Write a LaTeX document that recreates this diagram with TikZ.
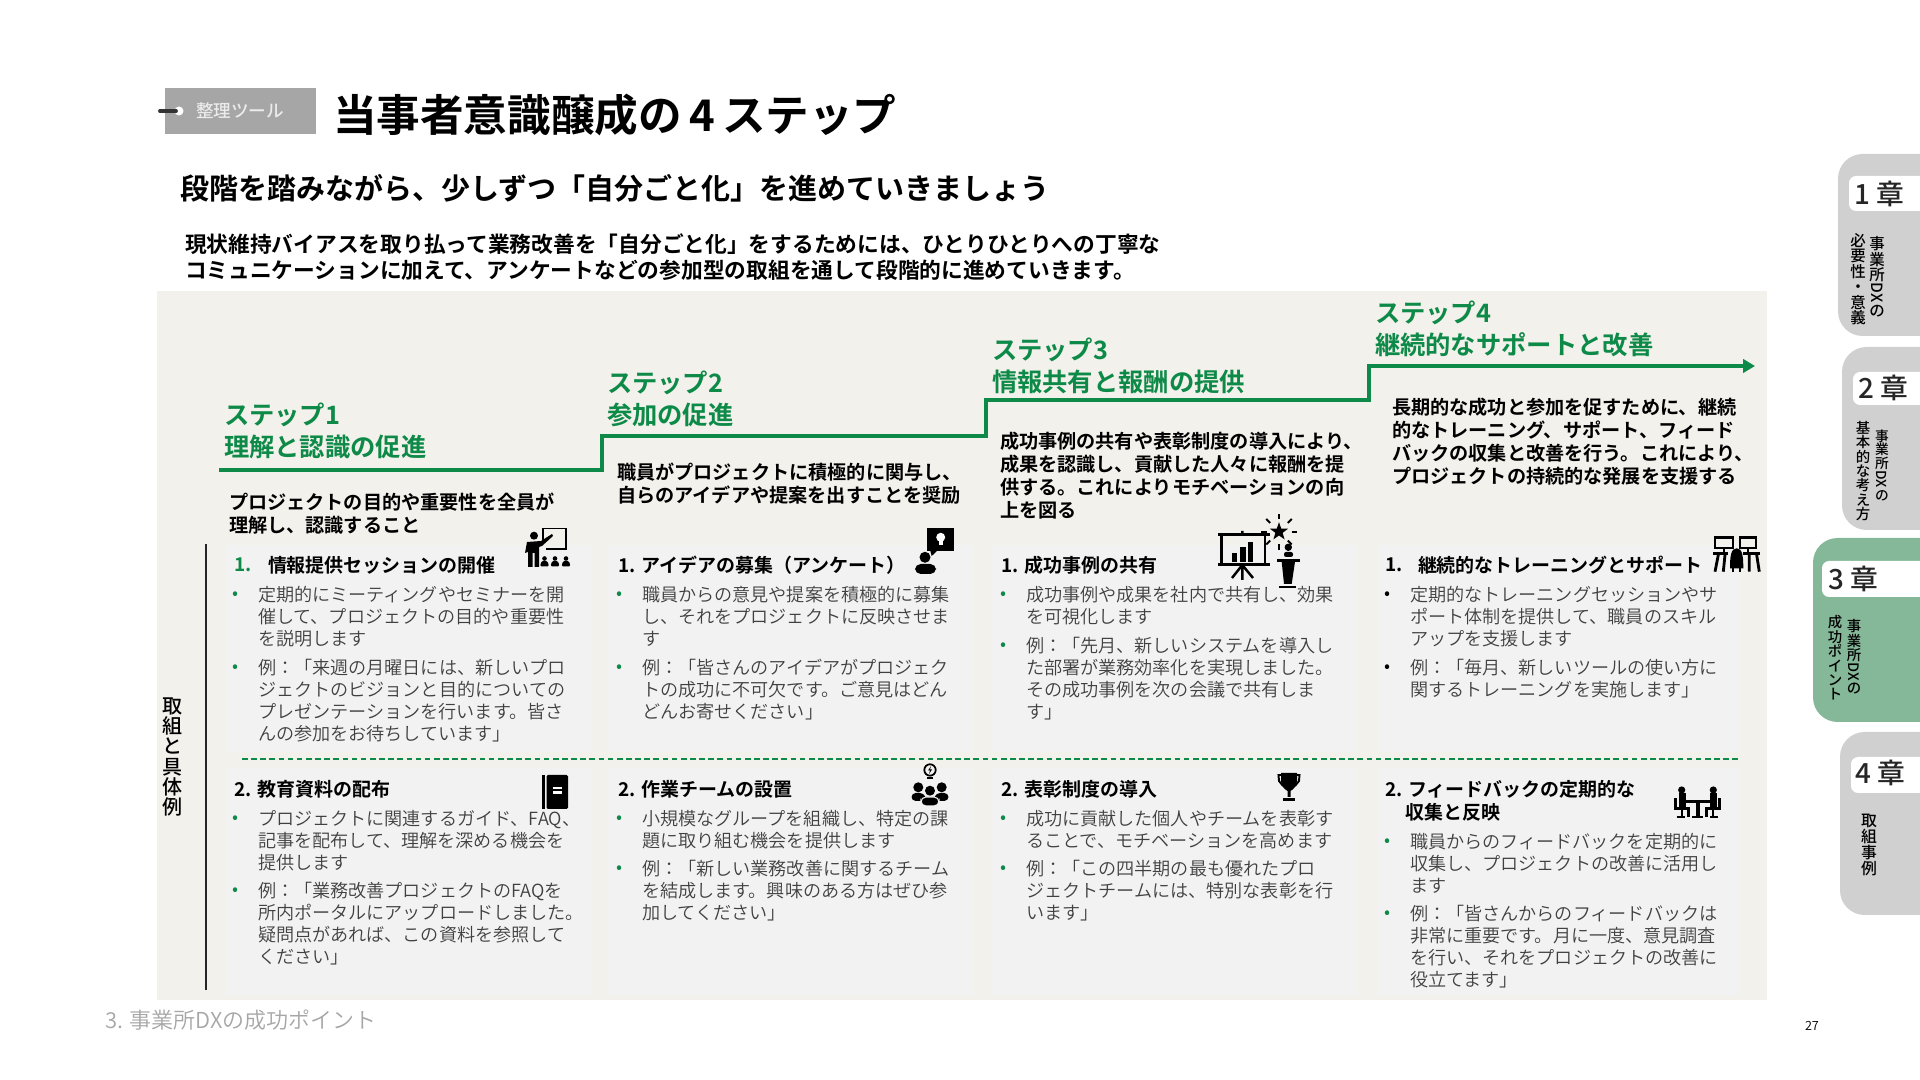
\documentclass[tikz,border=0pt]{standalone}
\usepackage{fontspec}
\usepackage{graphicx}
\setmainfont{Noto Sans CJK JP DemiLight}[BoldFont={Noto Sans CJK JP Medium}]
\newfontface\heavyface{Noto Sans CJK JP Bold}
\usepackage{xcolor}
\usetikzlibrary{arrows.meta}
\definecolor{stepgreen}{RGB}{14,138,72}
\definecolor{panelgray}{RGB}{243,241,236}
\definecolor{cardgray}{RGB}{242,242,242}
\definecolor{taggray}{RGB}{166,166,166}
\definecolor{tabgray}{RGB}{208,208,208}
\definecolor{tabgreen}{RGB}{133,184,152}
\definecolor{bodygray}{RGB}{64,64,64}

\tikzset{
  plain/.style={inner sep=0pt,outer sep=0pt,anchor=west},
  multi/.style={inner sep=0pt,outer sep=0pt,anchor=north west,align=left,yshift=-.85pt,execute at begin node={\rule{0pt}{1em}}},
  steptitle/.style={multi,text=stepgreen,font=\fontsize{7.2}{9.1}\selectfont\heavyface},
  stepdesc/.style={multi,font=\fontsize{5.45}{6.55}\selectfont\heavyface},
  cardtitle/.style={plain,font=\fontsize{5.4}{6.55}\selectfont\heavyface},
  itemtext/.style={multi,text=bodygray,font=\fontsize{5.15}{6.26}\selectfont},
  itemdot/.style={inner sep=0pt,outer sep=0pt,font=\fontsize{5.15}{6.26}\selectfont},
  tatetext/.style={inner sep=0pt,outer sep=0pt,align=center,execute at begin node={\lineskiplimit=-1em}},
  tablabel/.style={plain,font=\fontsize{7.9}{9}\selectfont\bfseries,text=black!85},
  card/.style={fill=cardgray},
  iconline/.style={line width=.55pt},
  % icons, drawn in reference pixels from their top left corner
  teacherpic/.pic={
    \draw[iconline] (33,22) -- (33,8.5) -- (55.7,8.5) -- (55.7,29) -- (36,29);
    \fill (24,15.7) circle (4);
    \fill (17,22) -- (31,21) -- (42,14) -- (43,16) -- (32,26) -- (29,27) -- (29,47) -- (24.5,47) -- (24.5,33) -- (22.5,33) -- (22.5,47) -- (18,47) -- (18,32) -- (15,33) -- cycle;
    \foreach \x in {34.5,45,56} {
      \fill (\x,38.5) circle (2.3);
      \fill[rounded corners=.4pt] (\x-4.5,46.5) -- (\x-3,41) -- (\x+3,41) -- (\x+4.5,46.5) -- cycle;
    }
  },
  ideapic/.pic={
    \fill (27.3,8.3) rectangle (54,30.7);
    \fill (30,30) -- (31.7,36) -- (38,30) -- cycle;
    \fill[white] (40.7,17.3) circle (4.5);
    \fill[white] (38.7,20) rectangle (42.7,25);
    \fill (25,37.3) circle (5.5);
    \fill[rounded corners=1.6pt] (15,54) -- (15,44) -- (36,44) -- (36,54) -- cycle;
  },
  showcasepic/.pic={
    \fill (8.3,23.5) rectangle (60,26.5);
    \fill (8.3,53.5) rectangle (60,56.5);
    \draw[line width=.8pt] (11.7,25) -- (11.7,55) (55,25) -- (55,55);
    \draw[line width=.7pt] (32.3,21) -- (32.3,25) (32.3,55) -- (32.3,70) (32.3,55) -- (22,68) (32.3,55) -- (43,68);
    \fill (21.7,42.7) rectangle (27.3,51.7);
    \fill (30,37.3) rectangle (35.7,51.7);
    \fill (37.7,31.7) rectangle (43.3,51.7);
    \fill[shift={(69,21.7)}] (-90:9.5) -- (-54:3.8) -- (-18:9.5) -- (18:3.8) -- (54:9.5) -- (90:3.8) -- (126:9.5) -- (162:3.8) -- (198:9.5) -- (234:3.8) -- cycle;
    \foreach \a in {-90,-45,0,45,90,135,180,225} {
      \draw[iconline,shift={(69,21.7)}] (\a:12.5) -- (\a:18);
    }
    \fill (78.3,37.3) circle (3.7);
    \fill[rounded corners=.6pt] (74,47) -- (74,42) -- (83,42) -- (83,47) -- cycle;
    \fill (66.7,49.3) rectangle (90,51.7);
    \fill (71.7,51.7) -- (85,51.7) -- (81.7,74) -- (74,74) -- cycle;
    \fill (69.3,76) rectangle (86,78.5);
  },
  trainpic/.pic={
    \draw[line width=.6pt] (15,7.5) rectangle (33,18.3);
    \draw[line width=.6pt] (40,7.5) rectangle (56,18.3);
    \draw[line width=.6pt] (24,18.3) -- (24,22.5) (48,18.3) -- (48,22.5);
    \fill (13.3,22) rectangle (28.3,25);
    \fill (43.3,22) rectangle (60,25);
    \draw[line width=.8pt] (18.3,25) -- (15,41.7) (25,25) -- (23.3,41.7) (49.3,25) -- (49.3,41.7) (56.7,25) -- (59.3,41.7);
    \fill (36.7,18.3) .. controls (31,18.3) and (30,26) .. (30,38.3) -- (43.3,38.3) .. controls (43.3,26) and (42.3,18.3) .. (36.7,18.3) -- cycle;
    \fill (32,38) rectangle (34.3,41.7);
    \fill (39,38) rectangle (41.3,41.7);
  },
  bookpic/.pic={
    \fill (0,0) rectangle (3,34);
    \fill[rounded corners=.4pt] (4.5,0) rectangle (26,34);
    \fill[white] (11,12) rectangle (20,19);
    \fill (11,14.5) rectangle (20,16);
  },
  grouppic/.pic={
    \draw[line width=.5pt] (35,15) circle (5.7);
    \fill (36,11) -- (33,15.5) -- (35,15.5) -- (34,19) -- (37,14.5) -- (35,14.5) -- cycle;
    \fill (32,22) rectangle (38,24);
    \fill (23.3,32.3) circle (5);
    \fill (46.7,32.3) circle (5);
    \fill (35,35.7) circle (5);
    \fill[rounded corners=1.2pt] (16.5,46) -- (16.5,38) -- (29,38) -- (32,46) -- cycle;
    \fill[rounded corners=1.2pt] (38,46) -- (41,38) -- (53.5,38) -- (53.5,46) -- cycle;
    \draw[line width=.3pt,fill=black,draw=cardgray,rounded corners=1.4pt] (26,51) -- (26,42) -- (44,42) -- (44,51) -- cycle;
  },
  trophypic/.pic={
    \fill (4,0) -- (20,0) -- (20,8) .. controls (20,14) and (15,17) .. (13.5,18) -- (13.5,24) -- (10.5,24) -- (10.5,18) .. controls (9,17) and (4,14) .. (4,8) -- cycle;
    \draw[iconline] (4,2) -- (1.5,2) -- (2,8) -- (6,13) (20,2) -- (22.5,2) -- (22,8) -- (18,13);
    \fill (6,25) rectangle (18,28.5);
  },
  meetingpic/.pic={
    \fill (21.7,15) circle (3.6);
    \fill (53.3,15) circle (3.6);
    \fill (18.5,18.5) rectangle (25.5,32);
    \fill (49.5,18.5) rectangle (56.5,32);
    \fill (25,25.5) rectangle (50,28.5);
    \fill (36,28.3) rectangle (39.5,41.7);
    \fill (31.7,41) rectangle (43.3,43);
    \draw[line width=.7pt] (15.7,23.3) -- (15.7,33.3) -- (28.3,33.3) -- (28.3,42);
    \draw[line width=.7pt] (59.3,23.3) -- (59.3,33.3) -- (46.7,33.3) -- (46.7,42);
    \draw[iconline] (21.7,33.3) -- (21.7,41.7) (16.7,41.7) -- (25,41.7);
    \draw[iconline] (53.3,33.3) -- (53.3,41.7) (50,41.7) -- (58.3,41.7);
  }
}

\newcommand{\carditem}[5]{%
  \node[itemdot,text=#4] (#1dot) at (#2-22,#3+2) {•};
  \node[itemtext] (#1) at (#2,#3-11) {#5};
}
\newcommand{\dxmark}{\smash{\raisebox{.88em}{\rotatebox{-90}{DX}}}}

\begin{document}
\begin{tikzpicture}[x=.01cm,y=-.01cm]
  \useasboundingbox (0,0) rectangle (1920,1080);

  % head of the slide
  \fill[taggray] (165,88) rectangle (316,134);
  \fill[white] (179,111) circle (4.5);
  \draw[line width=1.1pt,black!80,line cap=round] (160,111) -- (176,111);
  \node[plain,text=white!92!black,font=\fontsize{5}{6}\selectfont\bfseries] (tagtext) at (196,111) {整理ツール};
  \node[plain,font=\fontsize{12.4}{15}\selectfont\heavyface] (maintitle) at (333,115) {当事者意識醸成の\,4\,ステップ};
  \node[plain,font=\fontsize{8.25}{10}\selectfont\heavyface] (subtitle) at (180,188) {段階を踏みながら、少しずつ「自分ごと化」を進めていきましょう};
  \node[multi,font=\fontsize{6.18}{7.4}\selectfont\heavyface] (lead) at (185,231) {現状維持バイアスを取り払って業務改善を「自分ごと化」をするためには、ひとりひとりへの丁寧な\\コミュニケーションに加えて、アンケートなどの参加型の取組を通して段階的に進めていきます。};

  % panel and cards
  \fill[panelgray] (157,291) rectangle (1767,1000);
  \fill[card] (226,545) rectangle (592,752);
  \fill[card] (608,545) rectangle (974,752);
  \fill[card] (992,545) rectangle (1358,752);
  \fill[card] (1378,545) rectangle (1740,752);
  \fill[card] (226,768) rectangle (592,995);
  \fill[card] (608,768) rectangle (974,995);
  \fill[card] (992,768) rectangle (1358,995);
  \fill[card] (1378,768) rectangle (1740,995);

  % staircase
  \coordinate (stairA) at (219,470);
  \coordinate (stairB) at (602,470);
  \coordinate (stairC) at (602,436);
  \coordinate (stairD) at (986,436);
  \coordinate (stairE) at (986,400);
  \coordinate (stairF) at (1369,400);
  \coordinate (stairG) at (1369,366);
  \coordinate (stairH) at (1755,366);
  \draw[stepgreen,line width=1.4pt,-{Triangle[length=3.4pt,width=3.8pt]}] (stairA) -- (stairB) -- (stairC) -- (stairD) -- (stairE) -- (stairF) -- (stairG) -- (stairH);

  \node[steptitle] (stepone) at (224,400) {ステップ1\\理解と認識の促進};
  \node[steptitle] (steptwo) at (607,368) {ステップ2\\参加の促進};
  \node[steptitle] (stepthree) at (992,335) {ステップ3\\情報共有と報酬の提供};
  \node[steptitle] (stepfour) at (1375,298) {ステップ4\\継続的なサポートと改善};

  \node[stepdesc] (descone) at (229,490) {プロジェクトの目的や重要性を全員が\\理解し、認識すること};
  \node[stepdesc] (desctwo) at (617,460) {職員がプロジェクトに積極的に関与し、\\自らのアイデアや提案を出すことを奨励};
  \node[stepdesc] (descthree) at (1000,429) {成功事例の共有や表彰制度の導入により、\\成果を認識し、貢献した人々に報酬を提\\供する。これによりモチベーションの向\\上を図る};
  \node[stepdesc] (descfour) at (1392,395) {長期的な成功と参加を促すために、継続\\的なトレーニング、サポート、フィード\\バックの収集と改善を行う。これにより、\\プロジェクトの持続的な発展を支援する};

  % side label and separators
  \draw[black!85,line width=.35pt] (206,544) -- (206,990);
  \node[tatetext,font=\fontsize{5.7}{5.7}\selectfont\bfseries] (sidelabel) at (173,757) {取\\組\\と\\具\\体\\例};
  \coordinate (rowL) at (242,759);
  \coordinate (rowR) at (1740,759);
  \draw[stepgreen,line width=.35pt,dash pattern=on 1.6pt off 1pt] (rowL) -- (rowR);

  % first row
  \node[cardtitle,text=stepgreen] (numone) at (234,565) {1.};
  \node[cardtitle] (cardone) at (268,565) {情報提供セッションの開催};
  \carditem{onea}{258}{594}{stepgreen}{定期的にミーティングやセミナーを開\\催して、プロジェクトの目的や重要性\\を説明します}
  \carditem{oneb}{258}{667}{stepgreen}{例：「来週の月曜日には、新しいプロ\\ジェクトのビジョンと目的についての\\プレゼンテーションを行います。皆さ\\んの参加をお待ちしています」}

  \node[cardtitle] (cardtwo) at (618,565) {1. アイデアの募集（アンケート）};
  \carditem{twoa}{642}{594}{stepgreen}{職員からの意見や提案を積極的に募集\\し、それをプロジェクトに反映させま\\す}
  \carditem{twob}{642}{667}{stepgreen}{例：「皆さんのアイデアがプロジェク\\トの成功に不可欠です。ご意見はどん\\どんお寄せください」}

  \node[cardtitle] (cardthree) at (1001,565) {1. 成功事例の共有};
  \carditem{threea}{1026}{594}{stepgreen}{成功事例や成果を社内で共有し、効果\\を可視化します}
  \carditem{threeb}{1026}{645}{stepgreen}{例：「先月、新しいシステムを導入し\\た部署が業務効率化を実現しました。\\その成功事例を次の会議で共有しま\\す」}

  \node[cardtitle] (numfour) at (1385,565) {1.};
  \node[cardtitle] (cardfour) at (1418,565) {継続的なトレーニングとサポート};
  \carditem{foura}{1410}{594}{black}{定期的なトレーニングセッションやサ\\ポート体制を提供して、職員のスキル\\アップを支援します}
  \carditem{fourb}{1410}{667}{black}{例：「毎月、新しいツールの使い方に\\関するトレーニングを実施します」}

  % second row
  \node[cardtitle] (cardfive) at (234,789) {2. 教育資料の配布};
  \carditem{fivea}{258}{818}{stepgreen}{プロジェクトに関連するガイド、FAQ、\\記事を配布して、理解を深める機会を\\提供します}
  \carditem{fiveb}{258}{890}{stepgreen}{例：「業務改善プロジェクトのFAQを\\所内ポータルにアップロードしました。\\疑問点があれば、この資料を参照して\\ください」}

  \node[cardtitle] (cardsix) at (618,789) {2. 作業チームの設置};
  \carditem{sixa}{642}{818}{stepgreen}{小規模なグループを組織し、特定の課\\題に取り組む機会を提供します}
  \carditem{sixb}{642}{868}{stepgreen}{例：「新しい業務改善に関するチーム\\を結成します。興味のある方はぜひ参\\加してください」}

  \node[cardtitle] (cardseven) at (1001,789) {2. 表彰制度の導入};
  \carditem{sevena}{1026}{818}{stepgreen}{成功に貢献した個人やチームを表彰す\\ることで、モチベーションを高めます}
  \carditem{sevenb}{1026}{868}{stepgreen}{例：「この四半期の最も優れたプロ\\ジェクトチームには、特別な表彰を行\\います」}

  \node[stepdesc,font=\fontsize{5.4}{6.55}\selectfont\heavyface] (cardeight) at (1385,777) {2. フィードバックの定期的な\\\phantom{2.\,}収集と反映};
  \carditem{eighta}{1410}{841}{stepgreen}{職員からのフィードバックを定期的に\\収集し、プロジェクトの改善に活用し\\ます}
  \carditem{eightb}{1410}{913}{stepgreen}{例：「皆さんからのフィードバックは\\非常に重要です。月に一度、意見調査\\を行い、それをプロジェクトの改善に\\役立てます」}

  % icons
  \pic (iconone) at (510,520) {teacherpic};
  \pic (icontwo) at (900,520) {ideapic};
  \pic (iconthree) at (1210,510) {showcasepic};
  \pic (iconfour) at (1700,530) {trainpic};
  \pic (iconfive) at (542,775) {bookpic};
  \pic (iconsix) at (895,755) {grouppic};
  \pic (iconseven) at (1277,773) {trophypic};
  \pic (iconeight) at (1660,775) {meetingpic};

  % chapter tabs
  \fill[tabgray] (1920,154) [rounded corners=7pt] -- (1838,154) -- (1838,336) [sharp corners] -- (1920,336) -- cycle;
  \fill[white] (1920,176) [rounded corners=2pt] -- (1849,176) -- (1849,211) [sharp corners] -- (1920,211) -- cycle;
  \node[tablabel] (tabone) at (1854,194) {1 章};
  \node[tatetext,font=\fontsize{4.4}{4.4}\selectfont\bfseries] (tabonea) at (1877,277) {事\\業\\所\\\dxmark\\[.3em]の};
  \node[tatetext,font=\fontsize{4.4}{4.4}\selectfont\bfseries] (taboneb) at (1858,279) {必\\要\\性\\・\\意\\義};

  \fill[tabgray] (1920,347) [rounded corners=7pt] -- (1842,347) -- (1842,530) [sharp corners] -- (1920,530) -- cycle;
  \fill[white] (1920,372) [rounded corners=2pt] -- (1853,372) -- (1853,405) [sharp corners] -- (1920,405) -- cycle;
  \node[tablabel] (tabtwo) at (1858,388) {2 章};
  \node[tatetext,font=\fontsize{3.9}{3.9}\selectfont\bfseries] (tabtwoa) at (1882,465) {事\\業\\所\\\dxmark\\[.3em]の};
  \node[tatetext,font=\fontsize{4.1}{4.1}\selectfont\bfseries] (tabtwob) at (1863,471) {基\\本\\的\\な\\考\\え\\方};

  \fill[tabgreen] (1920,538) [rounded corners=7pt] -- (1813,538) -- (1813,722) [sharp corners] -- (1920,722) -- cycle;
  \fill[white] (1920,561) [rounded corners=2pt] -- (1822,561) -- (1822,597) [sharp corners] -- (1920,597) -- cycle;
  \node[tablabel] (tabthree) at (1828,579) {3 章};
  \node[tatetext,font=\fontsize{4.1}{4.1}\selectfont\bfseries] (tabthreea) at (1854,657) {事\\業\\所\\\dxmark\\[.3em]の};
  \node[tatetext,font=\fontsize{4.1}{4.1}\selectfont\bfseries] (tabthreeb) at (1835,658) {成\\功\\ポ\\イ\\ン\\ト};

  \fill[tabgray] (1920,732) [rounded corners=7pt] -- (1840,732) -- (1840,915) [sharp corners] -- (1920,915) -- cycle;
  \fill[white] (1920,757) [rounded corners=2pt] -- (1851,757) -- (1851,793) [sharp corners] -- (1920,793) -- cycle;
  \node[tablabel] (tabfour) at (1855,773) {4 章};
  \node[tatetext,font=\fontsize{4.5}{4.5}\selectfont\bfseries] (tabfoura) at (1869,845) {取\\組\\事\\例};

  % footer
  \node[plain,text=taggray,font=\fontsize{6.25}{7.5}\selectfont] (footer) at (105,1020) {3. 事業所DXの成功ポイント};
  \node[plain,font=\fontsize{3.6}{4.5}\selectfont] (pagenum) at (1805,1026) {27};
\end{tikzpicture}
\end{document}
